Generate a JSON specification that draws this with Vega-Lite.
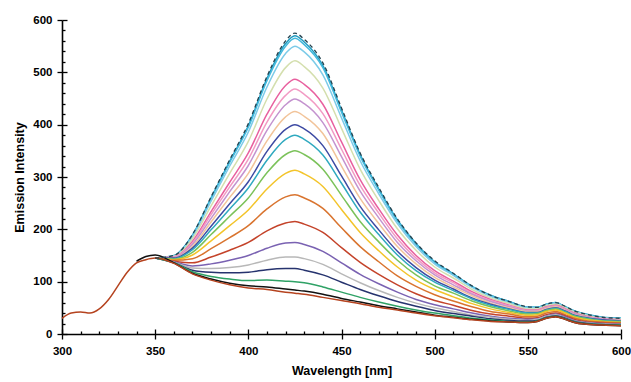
{
"$schema": "https://vega.github.io/schema/vega-lite/v6.json",
"width": 559, "height": 314,
"autosize": {"type": "none"},
"padding": {"left": 62, "top": 20, "right": 10, "bottom": 48},
"config": {"view": {"stroke": null}, "axis": {"labelFont": "Liberation Sans", "titleFont": "Liberation Sans", "labelFontWeight": "bold", "titleFontWeight": "bold", "labelFontSize": 11.5, "titleFontSize": 12.5, "labelColor": "#000", "titleColor": "#000", "domainColor": "#000", "tickColor": "#000", "domainWidth": 1.6, "tickWidth": 1.3, "grid": false}},
"datasets": {"d": [
{"s":1,"x":350,"y":145},{"s":1,"x":360,"y":150},{"s":1,"x":370,"y":190},{"s":1,"x":380,"y":262},{"s":1,"x":390,"y":333},{"s":1,"x":400,"y":402},{"s":1,"x":410,"y":492},{"s":1,"x":420,"y":560},{"s":1,"x":425,"y":575},{"s":1,"x":430,"y":563},{"s":1,"x":440,"y":518},{"s":1,"x":450,"y":432},{"s":1,"x":460,"y":346},{"s":1,"x":470,"y":280},{"s":1,"x":480,"y":220},{"s":1,"x":490,"y":174},{"s":1,"x":500,"y":140},{"s":1,"x":510,"y":116},{"s":1,"x":520,"y":92},{"s":1,"x":530,"y":74},{"s":1,"x":540,"y":62},{"s":1,"x":550,"y":52},{"s":1,"x":555,"y":51},{"s":1,"x":560,"y":57},{"s":1,"x":565,"y":60},{"s":1,"x":570,"y":53},{"s":1,"x":575,"y":44},{"s":1,"x":580,"y":39},{"s":1,"x":590,"y":32},{"s":1,"x":600,"y":30},
{"s":2,"x":350,"y":145},{"s":2,"x":360,"y":150},{"s":2,"x":370,"y":189},{"s":2,"x":380,"y":260},{"s":2,"x":390,"y":330},{"s":2,"x":400,"y":398},{"s":2,"x":410,"y":488},{"s":2,"x":420,"y":555},{"s":2,"x":425,"y":570},{"s":2,"x":430,"y":558},{"s":2,"x":440,"y":513},{"s":2,"x":450,"y":428},{"s":2,"x":460,"y":343},{"s":2,"x":470,"y":277},{"s":2,"x":480,"y":218},{"s":2,"x":490,"y":173},{"s":2,"x":500,"y":138},{"s":2,"x":510,"y":115},{"s":2,"x":520,"y":91},{"s":2,"x":530,"y":74},{"s":2,"x":540,"y":62},{"s":2,"x":550,"y":51},{"s":2,"x":555,"y":51},{"s":2,"x":560,"y":57},{"s":2,"x":565,"y":60},{"s":2,"x":570,"y":52},{"s":2,"x":575,"y":44},{"s":2,"x":580,"y":39},{"s":2,"x":590,"y":32},{"s":2,"x":600,"y":30},
{"s":3,"x":350,"y":145},{"s":3,"x":360,"y":149},{"s":3,"x":370,"y":188},{"s":3,"x":380,"y":259},{"s":3,"x":390,"y":328},{"s":3,"x":400,"y":395},{"s":3,"x":410,"y":484},{"s":3,"x":420,"y":550},{"s":3,"x":425,"y":565},{"s":3,"x":430,"y":553},{"s":3,"x":440,"y":509},{"s":3,"x":450,"y":424},{"s":3,"x":460,"y":340},{"s":3,"x":470,"y":275},{"s":3,"x":480,"y":216},{"s":3,"x":490,"y":171},{"s":3,"x":500,"y":137},{"s":3,"x":510,"y":114},{"s":3,"x":520,"y":91},{"s":3,"x":530,"y":73},{"s":3,"x":540,"y":62},{"s":3,"x":550,"y":51},{"s":3,"x":555,"y":51},{"s":3,"x":560,"y":57},{"s":3,"x":565,"y":60},{"s":3,"x":570,"y":52},{"s":3,"x":575,"y":44},{"s":3,"x":580,"y":38},{"s":3,"x":590,"y":31},{"s":3,"x":600,"y":30},
{"s":4,"x":350,"y":145},{"s":4,"x":360,"y":149},{"s":4,"x":370,"y":186},{"s":4,"x":380,"y":254},{"s":4,"x":390,"y":321},{"s":4,"x":400,"y":386},{"s":4,"x":410,"y":472},{"s":4,"x":420,"y":536},{"s":4,"x":425,"y":550},{"s":4,"x":430,"y":539},{"s":4,"x":440,"y":495},{"s":4,"x":450,"y":413},{"s":4,"x":460,"y":331},{"s":4,"x":470,"y":268},{"s":4,"x":480,"y":211},{"s":4,"x":490,"y":167},{"s":4,"x":500,"y":134},{"s":4,"x":510,"y":112},{"s":4,"x":520,"y":89},{"s":4,"x":530,"y":72},{"s":4,"x":540,"y":60},{"s":4,"x":550,"y":50},{"s":4,"x":555,"y":50},{"s":4,"x":560,"y":56},{"s":4,"x":565,"y":59},{"s":4,"x":570,"y":51},{"s":4,"x":575,"y":43},{"s":4,"x":580,"y":38},{"s":4,"x":590,"y":31},{"s":4,"x":600,"y":29},
{"s":5,"x":350,"y":145},{"s":5,"x":360,"y":148},{"s":5,"x":370,"y":182},{"s":5,"x":380,"y":245},{"s":5,"x":390,"y":307},{"s":5,"x":400,"y":368},{"s":5,"x":410,"y":449},{"s":5,"x":420,"y":509},{"s":5,"x":425,"y":522},{"s":5,"x":430,"y":511},{"s":5,"x":440,"y":470},{"s":5,"x":450,"y":393},{"s":5,"x":460,"y":315},{"s":5,"x":470,"y":255},{"s":5,"x":480,"y":201},{"s":5,"x":490,"y":160},{"s":5,"x":500,"y":128},{"s":5,"x":510,"y":107},{"s":5,"x":520,"y":85},{"s":5,"x":530,"y":69},{"s":5,"x":540,"y":58},{"s":5,"x":550,"y":48},{"s":5,"x":555,"y":48},{"s":5,"x":560,"y":54},{"s":5,"x":565,"y":57},{"s":5,"x":570,"y":50},{"s":5,"x":575,"y":42},{"s":5,"x":580,"y":37},{"s":5,"x":590,"y":30},{"s":5,"x":600,"y":28},
{"s":6,"x":350,"y":145},{"s":6,"x":360,"y":147},{"s":6,"x":370,"y":177},{"s":6,"x":380,"y":234},{"s":6,"x":390,"y":290},{"s":6,"x":400,"y":346},{"s":6,"x":410,"y":420},{"s":6,"x":420,"y":475},{"s":6,"x":425,"y":487},{"s":6,"x":430,"y":477},{"s":6,"x":440,"y":439},{"s":6,"x":450,"y":367},{"s":6,"x":460,"y":295},{"s":6,"x":470,"y":239},{"s":6,"x":480,"y":189},{"s":6,"x":490,"y":150},{"s":6,"x":500,"y":121},{"s":6,"x":510,"y":101},{"s":6,"x":520,"y":81},{"s":6,"x":530,"y":66},{"s":6,"x":540,"y":55},{"s":6,"x":550,"y":46},{"s":6,"x":555,"y":46},{"s":6,"x":560,"y":52},{"s":6,"x":565,"y":55},{"s":6,"x":570,"y":48},{"s":6,"x":575,"y":40},{"s":6,"x":580,"y":35},{"s":6,"x":590,"y":29},{"s":6,"x":600,"y":27},
{"s":7,"x":350,"y":145},{"s":7,"x":360,"y":147},{"s":7,"x":370,"y":174},{"s":7,"x":380,"y":228},{"s":7,"x":390,"y":281},{"s":7,"x":400,"y":334},{"s":7,"x":410,"y":405},{"s":7,"x":420,"y":456},{"s":7,"x":425,"y":468},{"s":7,"x":430,"y":458},{"s":7,"x":440,"y":421},{"s":7,"x":450,"y":353},{"s":7,"x":460,"y":284},{"s":7,"x":470,"y":231},{"s":7,"x":480,"y":182},{"s":7,"x":490,"y":145},{"s":7,"x":500,"y":117},{"s":7,"x":510,"y":98},{"s":7,"x":520,"y":78},{"s":7,"x":530,"y":64},{"s":7,"x":540,"y":54},{"s":7,"x":550,"y":45},{"s":7,"x":555,"y":45},{"s":7,"x":560,"y":51},{"s":7,"x":565,"y":54},{"s":7,"x":570,"y":47},{"s":7,"x":575,"y":39},{"s":7,"x":580,"y":34},{"s":7,"x":590,"y":29},{"s":7,"x":600,"y":27},
{"s":8,"x":350,"y":145},{"s":8,"x":360,"y":146},{"s":8,"x":370,"y":171},{"s":8,"x":380,"y":221},{"s":8,"x":390,"y":272},{"s":8,"x":400,"y":322},{"s":8,"x":410,"y":389},{"s":8,"x":420,"y":438},{"s":8,"x":425,"y":449},{"s":8,"x":430,"y":440},{"s":8,"x":440,"y":404},{"s":8,"x":450,"y":339},{"s":8,"x":460,"y":273},{"s":8,"x":470,"y":222},{"s":8,"x":480,"y":175},{"s":8,"x":490,"y":140},{"s":8,"x":500,"y":113},{"s":8,"x":510,"y":94},{"s":8,"x":520,"y":76},{"s":8,"x":530,"y":62},{"s":8,"x":540,"y":52},{"s":8,"x":550,"y":44},{"s":8,"x":555,"y":44},{"s":8,"x":560,"y":50},{"s":8,"x":565,"y":53},{"s":8,"x":570,"y":46},{"s":8,"x":575,"y":39},{"s":8,"x":580,"y":34},{"s":8,"x":590,"y":28},{"s":8,"x":600,"y":26},
{"s":9,"x":350,"y":145},{"s":9,"x":360,"y":145},{"s":9,"x":370,"y":167},{"s":9,"x":380,"y":214},{"s":9,"x":390,"y":261},{"s":9,"x":400,"y":307},{"s":9,"x":410,"y":369},{"s":9,"x":420,"y":415},{"s":9,"x":425,"y":425},{"s":9,"x":430,"y":416},{"s":9,"x":440,"y":383},{"s":9,"x":450,"y":321},{"s":9,"x":460,"y":259},{"s":9,"x":470,"y":211},{"s":9,"x":480,"y":167},{"s":9,"x":490,"y":134},{"s":9,"x":500,"y":108},{"s":9,"x":510,"y":90},{"s":9,"x":520,"y":73},{"s":9,"x":530,"y":59},{"s":9,"x":540,"y":50},{"s":9,"x":550,"y":43},{"s":9,"x":555,"y":43},{"s":9,"x":560,"y":49},{"s":9,"x":565,"y":52},{"s":9,"x":570,"y":45},{"s":9,"x":575,"y":37},{"s":9,"x":580,"y":33},{"s":9,"x":590,"y":27},{"s":9,"x":600,"y":26},
{"s":10,"x":350,"y":145},{"s":10,"x":360,"y":145},{"s":10,"x":370,"y":164},{"s":10,"x":380,"y":206},{"s":10,"x":390,"y":249},{"s":10,"x":400,"y":291},{"s":10,"x":410,"y":349},{"s":10,"x":420,"y":391},{"s":10,"x":425,"y":400},{"s":10,"x":430,"y":392},{"s":10,"x":440,"y":360},{"s":10,"x":450,"y":302},{"s":10,"x":460,"y":244},{"s":10,"x":470,"y":199},{"s":10,"x":480,"y":158},{"s":10,"x":490,"y":127},{"s":10,"x":500,"y":103},{"s":10,"x":510,"y":86},{"s":10,"x":520,"y":69},{"s":10,"x":530,"y":57},{"s":10,"x":540,"y":48},{"s":10,"x":550,"y":41},{"s":10,"x":555,"y":41},{"s":10,"x":560,"y":47},{"s":10,"x":565,"y":50},{"s":10,"x":570,"y":44},{"s":10,"x":575,"y":36},{"s":10,"x":580,"y":32},{"s":10,"x":590,"y":27},{"s":10,"x":600,"y":25},
{"s":11,"x":350,"y":145},{"s":11,"x":360,"y":144},{"s":11,"x":370,"y":161},{"s":11,"x":380,"y":199},{"s":11,"x":390,"y":239},{"s":11,"x":400,"y":279},{"s":11,"x":410,"y":332},{"s":11,"x":420,"y":372},{"s":11,"x":425,"y":380},{"s":11,"x":430,"y":372},{"s":11,"x":440,"y":342},{"s":11,"x":450,"y":288},{"s":11,"x":460,"y":233},{"s":11,"x":470,"y":190},{"s":11,"x":480,"y":151},{"s":11,"x":490,"y":121},{"s":11,"x":500,"y":99},{"s":11,"x":510,"y":83},{"s":11,"x":520,"y":67},{"s":11,"x":530,"y":55},{"s":11,"x":540,"y":47},{"s":11,"x":550,"y":40},{"s":11,"x":555,"y":40},{"s":11,"x":560,"y":46},{"s":11,"x":565,"y":49},{"s":11,"x":570,"y":43},{"s":11,"x":575,"y":35},{"s":11,"x":580,"y":31},{"s":11,"x":590,"y":26},{"s":11,"x":600,"y":24},
{"s":12,"x":350,"y":145},{"s":12,"x":360,"y":143},{"s":12,"x":370,"y":156},{"s":12,"x":380,"y":190},{"s":12,"x":390,"y":225},{"s":12,"x":400,"y":260},{"s":12,"x":410,"y":308},{"s":12,"x":420,"y":343},{"s":12,"x":425,"y":350},{"s":12,"x":430,"y":343},{"s":12,"x":440,"y":315},{"s":12,"x":450,"y":265},{"s":12,"x":460,"y":215},{"s":12,"x":470,"y":176},{"s":12,"x":480,"y":141},{"s":12,"x":490,"y":113},{"s":12,"x":500,"y":92},{"s":12,"x":510,"y":78},{"s":12,"x":520,"y":63},{"s":12,"x":530,"y":52},{"s":12,"x":540,"y":44},{"s":12,"x":550,"y":38},{"s":12,"x":555,"y":39},{"s":12,"x":560,"y":45},{"s":12,"x":565,"y":48},{"s":12,"x":570,"y":41},{"s":12,"x":575,"y":34},{"s":12,"x":580,"y":30},{"s":12,"x":590,"y":25},{"s":12,"x":600,"y":24},
{"s":13,"x":350,"y":145},{"s":13,"x":360,"y":142},{"s":13,"x":370,"y":151},{"s":13,"x":380,"y":178},{"s":13,"x":390,"y":207},{"s":13,"x":400,"y":237},{"s":13,"x":410,"y":277},{"s":13,"x":420,"y":307},{"s":13,"x":425,"y":313},{"s":13,"x":430,"y":306},{"s":13,"x":440,"y":282},{"s":13,"x":450,"y":238},{"s":13,"x":460,"y":194},{"s":13,"x":470,"y":159},{"s":13,"x":480,"y":128},{"s":13,"x":490,"y":103},{"s":13,"x":500,"y":85},{"s":13,"x":510,"y":71},{"s":13,"x":520,"y":58},{"s":13,"x":530,"y":48},{"s":13,"x":540,"y":41},{"s":13,"x":550,"y":36},{"s":13,"x":555,"y":37},{"s":13,"x":560,"y":43},{"s":13,"x":565,"y":46},{"s":13,"x":570,"y":40},{"s":13,"x":575,"y":32},{"s":13,"x":580,"y":28},{"s":13,"x":590,"y":24},{"s":13,"x":600,"y":22},
{"s":14,"x":350,"y":145},{"s":14,"x":360,"y":141},{"s":14,"x":370,"y":144},{"s":14,"x":380,"y":163},{"s":14,"x":390,"y":184},{"s":14,"x":400,"y":207},{"s":14,"x":410,"y":239},{"s":14,"x":420,"y":262},{"s":14,"x":425,"y":266},{"s":14,"x":430,"y":260},{"s":14,"x":440,"y":240},{"s":14,"x":450,"y":203},{"s":14,"x":460,"y":167},{"s":14,"x":470,"y":138},{"s":14,"x":480,"y":111},{"s":14,"x":490,"y":91},{"s":14,"x":500,"y":75},{"s":14,"x":510,"y":63},{"s":14,"x":520,"y":52},{"s":14,"x":530,"y":43},{"s":14,"x":540,"y":38},{"s":14,"x":550,"y":33},{"s":14,"x":555,"y":34},{"s":14,"x":560,"y":40},{"s":14,"x":565,"y":43},{"s":14,"x":570,"y":37},{"s":14,"x":575,"y":30},{"s":14,"x":580,"y":26},{"s":14,"x":590,"y":23},{"s":14,"x":600,"y":21},
{"s":15,"x":350,"y":145},{"s":15,"x":360,"y":139},{"s":15,"x":370,"y":136},{"s":15,"x":380,"y":147},{"s":15,"x":390,"y":160},{"s":15,"x":400,"y":175},{"s":15,"x":410,"y":197},{"s":15,"x":420,"y":212},{"s":15,"x":425,"y":215},{"s":15,"x":430,"y":210},{"s":15,"x":440,"y":194},{"s":15,"x":450,"y":165},{"s":15,"x":460,"y":137},{"s":15,"x":470,"y":114},{"s":15,"x":480,"y":94},{"s":15,"x":490,"y":77},{"s":15,"x":500,"y":64},{"s":15,"x":510,"y":55},{"s":15,"x":520,"y":45},{"s":15,"x":530,"y":38},{"s":15,"x":540,"y":34},{"s":15,"x":550,"y":30},{"s":15,"x":555,"y":31},{"s":15,"x":560,"y":37},{"s":15,"x":565,"y":40},{"s":15,"x":570,"y":35},{"s":15,"x":575,"y":28},{"s":15,"x":580,"y":24},{"s":15,"x":590,"y":21},{"s":15,"x":600,"y":20},
{"s":16,"x":350,"y":145},{"s":16,"x":360,"y":138},{"s":16,"x":370,"y":130},{"s":16,"x":380,"y":134},{"s":16,"x":390,"y":141},{"s":16,"x":400,"y":150},{"s":16,"x":410,"y":164},{"s":16,"x":420,"y":174},{"s":16,"x":425,"y":175},{"s":16,"x":430,"y":171},{"s":16,"x":440,"y":158},{"s":16,"x":450,"y":136},{"s":16,"x":460,"y":114},{"s":16,"x":470,"y":96},{"s":16,"x":480,"y":80},{"s":16,"x":490,"y":66},{"s":16,"x":500,"y":56},{"s":16,"x":510,"y":48},{"s":16,"x":520,"y":40},{"s":16,"x":530,"y":34},{"s":16,"x":540,"y":30},{"s":16,"x":550,"y":28},{"s":16,"x":555,"y":29},{"s":16,"x":560,"y":35},{"s":16,"x":565,"y":38},{"s":16,"x":570,"y":33},{"s":16,"x":575,"y":26},{"s":16,"x":580,"y":23},{"s":16,"x":590,"y":20},{"s":16,"x":600,"y":19},
{"s":17,"x":350,"y":145},{"s":17,"x":360,"y":137},{"s":17,"x":370,"y":126},{"s":17,"x":380,"y":125},{"s":17,"x":390,"y":127},{"s":17,"x":400,"y":132},{"s":17,"x":410,"y":141},{"s":17,"x":420,"y":147},{"s":17,"x":425,"y":147},{"s":17,"x":430,"y":144},{"s":17,"x":440,"y":133},{"s":17,"x":450,"y":115},{"s":17,"x":460,"y":98},{"s":17,"x":470,"y":83},{"s":17,"x":480,"y":70},{"s":17,"x":490,"y":59},{"s":17,"x":500,"y":50},{"s":17,"x":510,"y":43},{"s":17,"x":520,"y":36},{"s":17,"x":530,"y":32},{"s":17,"x":540,"y":28},{"s":17,"x":550,"y":26},{"s":17,"x":555,"y":28},{"s":17,"x":560,"y":34},{"s":17,"x":565,"y":37},{"s":17,"x":570,"y":31},{"s":17,"x":575,"y":25},{"s":17,"x":580,"y":22},{"s":17,"x":590,"y":19},{"s":17,"x":600,"y":18},
{"s":18,"x":350,"y":145},{"s":18,"x":360,"y":136},{"s":18,"x":370,"y":122},{"s":18,"x":380,"y":118},{"s":18,"x":390,"y":117},{"s":18,"x":400,"y":118},{"s":18,"x":410,"y":123},{"s":18,"x":420,"y":125},{"s":18,"x":425,"y":125},{"s":18,"x":430,"y":122},{"s":18,"x":440,"y":113},{"s":18,"x":450,"y":99},{"s":18,"x":460,"y":85},{"s":18,"x":470,"y":73},{"s":18,"x":480,"y":62},{"s":18,"x":490,"y":53},{"s":18,"x":500,"y":45},{"s":18,"x":510,"y":39},{"s":18,"x":520,"y":34},{"s":18,"x":530,"y":29},{"s":18,"x":540,"y":26},{"s":18,"x":550,"y":25},{"s":18,"x":555,"y":26},{"s":18,"x":560,"y":32},{"s":18,"x":565,"y":35},{"s":18,"x":570,"y":30},{"s":18,"x":575,"y":24},{"s":18,"x":580,"y":21},{"s":18,"x":590,"y":18},{"s":18,"x":600,"y":17},
{"s":19,"x":350,"y":145},{"s":19,"x":360,"y":136},{"s":19,"x":370,"y":119},{"s":19,"x":380,"y":110},{"s":19,"x":390,"y":105},{"s":19,"x":400,"y":102},{"s":19,"x":410,"y":103},{"s":19,"x":420,"y":101},{"s":19,"x":425,"y":100},{"s":19,"x":430,"y":98},{"s":19,"x":440,"y":90},{"s":19,"x":450,"y":80},{"s":19,"x":460,"y":70},{"s":19,"x":470,"y":61},{"s":19,"x":480,"y":53},{"s":19,"x":490,"y":46},{"s":19,"x":500,"y":40},{"s":19,"x":510,"y":35},{"s":19,"x":520,"y":30},{"s":19,"x":530,"y":27},{"s":19,"x":540,"y":24},{"s":19,"x":550,"y":23},{"s":19,"x":555,"y":25},{"s":19,"x":560,"y":31},{"s":19,"x":565,"y":34},{"s":19,"x":570,"y":29},{"s":19,"x":575,"y":23},{"s":19,"x":580,"y":20},{"s":19,"x":590,"y":18},{"s":19,"x":600,"y":17},
{"s":20,"x":340,"y":139},{"s":20,"x":345,"y":148},{"s":20,"x":350,"y":151},{"s":20,"x":360,"y":136},{"s":20,"x":370,"y":116},{"s":20,"x":380,"y":105},{"s":20,"x":390,"y":97},{"s":20,"x":400,"y":92},{"s":20,"x":410,"y":90},{"s":20,"x":420,"y":86},{"s":20,"x":425,"y":84},{"s":20,"x":430,"y":82},{"s":20,"x":440,"y":76},{"s":20,"x":450,"y":68},{"s":20,"x":460,"y":61},{"s":20,"x":470,"y":54},{"s":20,"x":480,"y":48},{"s":20,"x":490,"y":42},{"s":20,"x":500,"y":36},{"s":20,"x":510,"y":32},{"s":20,"x":520,"y":28},{"s":20,"x":530,"y":25},{"s":20,"x":540,"y":23},{"s":20,"x":550,"y":22},{"s":20,"x":555,"y":24},{"s":20,"x":560,"y":30},{"s":20,"x":565,"y":33},{"s":20,"x":570,"y":28},{"s":20,"x":575,"y":22},{"s":20,"x":580,"y":19},{"s":20,"x":590,"y":17},{"s":20,"x":600,"y":16},
{"s":21,"x":300,"y":30},{"s":21,"x":305,"y":40},{"s":21,"x":310,"y":42},{"s":21,"x":315,"y":40},{"s":21,"x":320,"y":48},{"s":21,"x":325,"y":66},{"s":21,"x":330,"y":92},{"s":21,"x":335,"y":118},{"s":21,"x":340,"y":136},{"s":21,"x":345,"y":142},{"s":21,"x":350,"y":145},{"s":21,"x":360,"y":135},{"s":21,"x":370,"y":115},{"s":21,"x":380,"y":103},{"s":21,"x":390,"y":94},{"s":21,"x":400,"y":88},{"s":21,"x":410,"y":85},{"s":21,"x":420,"y":80},{"s":21,"x":425,"y":78},{"s":21,"x":430,"y":76},{"s":21,"x":440,"y":70},{"s":21,"x":450,"y":64},{"s":21,"x":460,"y":58},{"s":21,"x":470,"y":51},{"s":21,"x":480,"y":46},{"s":21,"x":490,"y":40},{"s":21,"x":500,"y":35},{"s":21,"x":510,"y":31},{"s":21,"x":520,"y":27},{"s":21,"x":530,"y":24},{"s":21,"x":540,"y":23},{"s":21,"x":550,"y":22},{"s":21,"x":555,"y":24},{"s":21,"x":560,"y":30},{"s":21,"x":565,"y":33},{"s":21,"x":570,"y":28},{"s":21,"x":575,"y":22},{"s":21,"x":580,"y":19},{"s":21,"x":590,"y":17},{"s":21,"x":600,"y":16}
]},
"data": {"name": "d"},
"layer": [
{
"transform": [{"filter": "datum.s > 1"}],
"mark": {"type": "line", "strokeWidth": 1.5, "interpolate": "monotone"},
"encoding": {
"x": {"field": "x", "type": "quantitative", "scale": {"domain": [300, 600], "nice": false, "zero": false},
"axis": {"title": "Wavelength [nm]", "values": [300,310,320,330,340,350,360,370,380,390,400,410,420,430,440,450,460,470,480,490,500,510,520,530,540,550,560,570,580,590,600], "labelExpr": "datum.value % 50 === 0 ? datum.label : ''", "labelOverlap": false, "labelFlush": false, "tickSize": {"condition": {"test": "datum.value % 50 === 0", "value": 5}, "value": -3}, "labelPadding": 6, "titlePadding": 8}},
"y": {"field": "y", "type": "quantitative", "scale": {"domain": [0, 600], "nice": false},
"axis": {"title": "Emission Intensity", "values": [0,20,40,60,80,100,120,140,160,180,200,220,240,260,280,300,320,340,360,380,400,420,440,460,480,500,520,540,560,580,600], "labelExpr": "datum.value % 100 === 0 ? datum.label : ''", "labelOverlap": false, "labelFlush": false, "tickSize": {"condition": {"test": "datum.value % 100 === 0", "value": 5}, "value": -3}, "labelPadding": 5, "titlePadding": 6}},
"color": {"field": "s", "type": "nominal", "legend": null,
"scale": {"domain": [2,3,4,5,6,7,8,9,10,11,12,13,14,15,16,17,18,19,20,21],
"range": ["#1f9bc0","#45b9dc","#7ccbe8","#d4dfae","#e8609f","#f29bc4","#c493cf","#f2c49a","#3d4aa3","#2fa9bf","#7bc25a","#f3c42a","#d9742f","#c4432a","#7a62b2","#b8b8b8","#26336e","#2fa266","#111111","#b5431f"]}}
}
},
{
"transform": [{"filter": "datum.s == 1"}],
"mark": {"type": "line", "strokeWidth": 1.3, "color": "#24434f", "strokeDash": [4, 3], "interpolate": "monotone"},
"encoding": {
"x": {"field": "x", "type": "quantitative", "axis": {"orient": "bottom", "values": [300,350,400,450,500,550,600], "labels": false, "domain": false, "tickSize": -5, "title": null}},
"y": {"field": "y", "type": "quantitative", "axis": {"orient": "left", "values": [0,100,200,300,400,500,600], "labels": false, "domain": false, "tickSize": -5, "title": null}}
}
}
],
"resolve": {"axis": {"x": "independent", "y": "independent"}}
}
